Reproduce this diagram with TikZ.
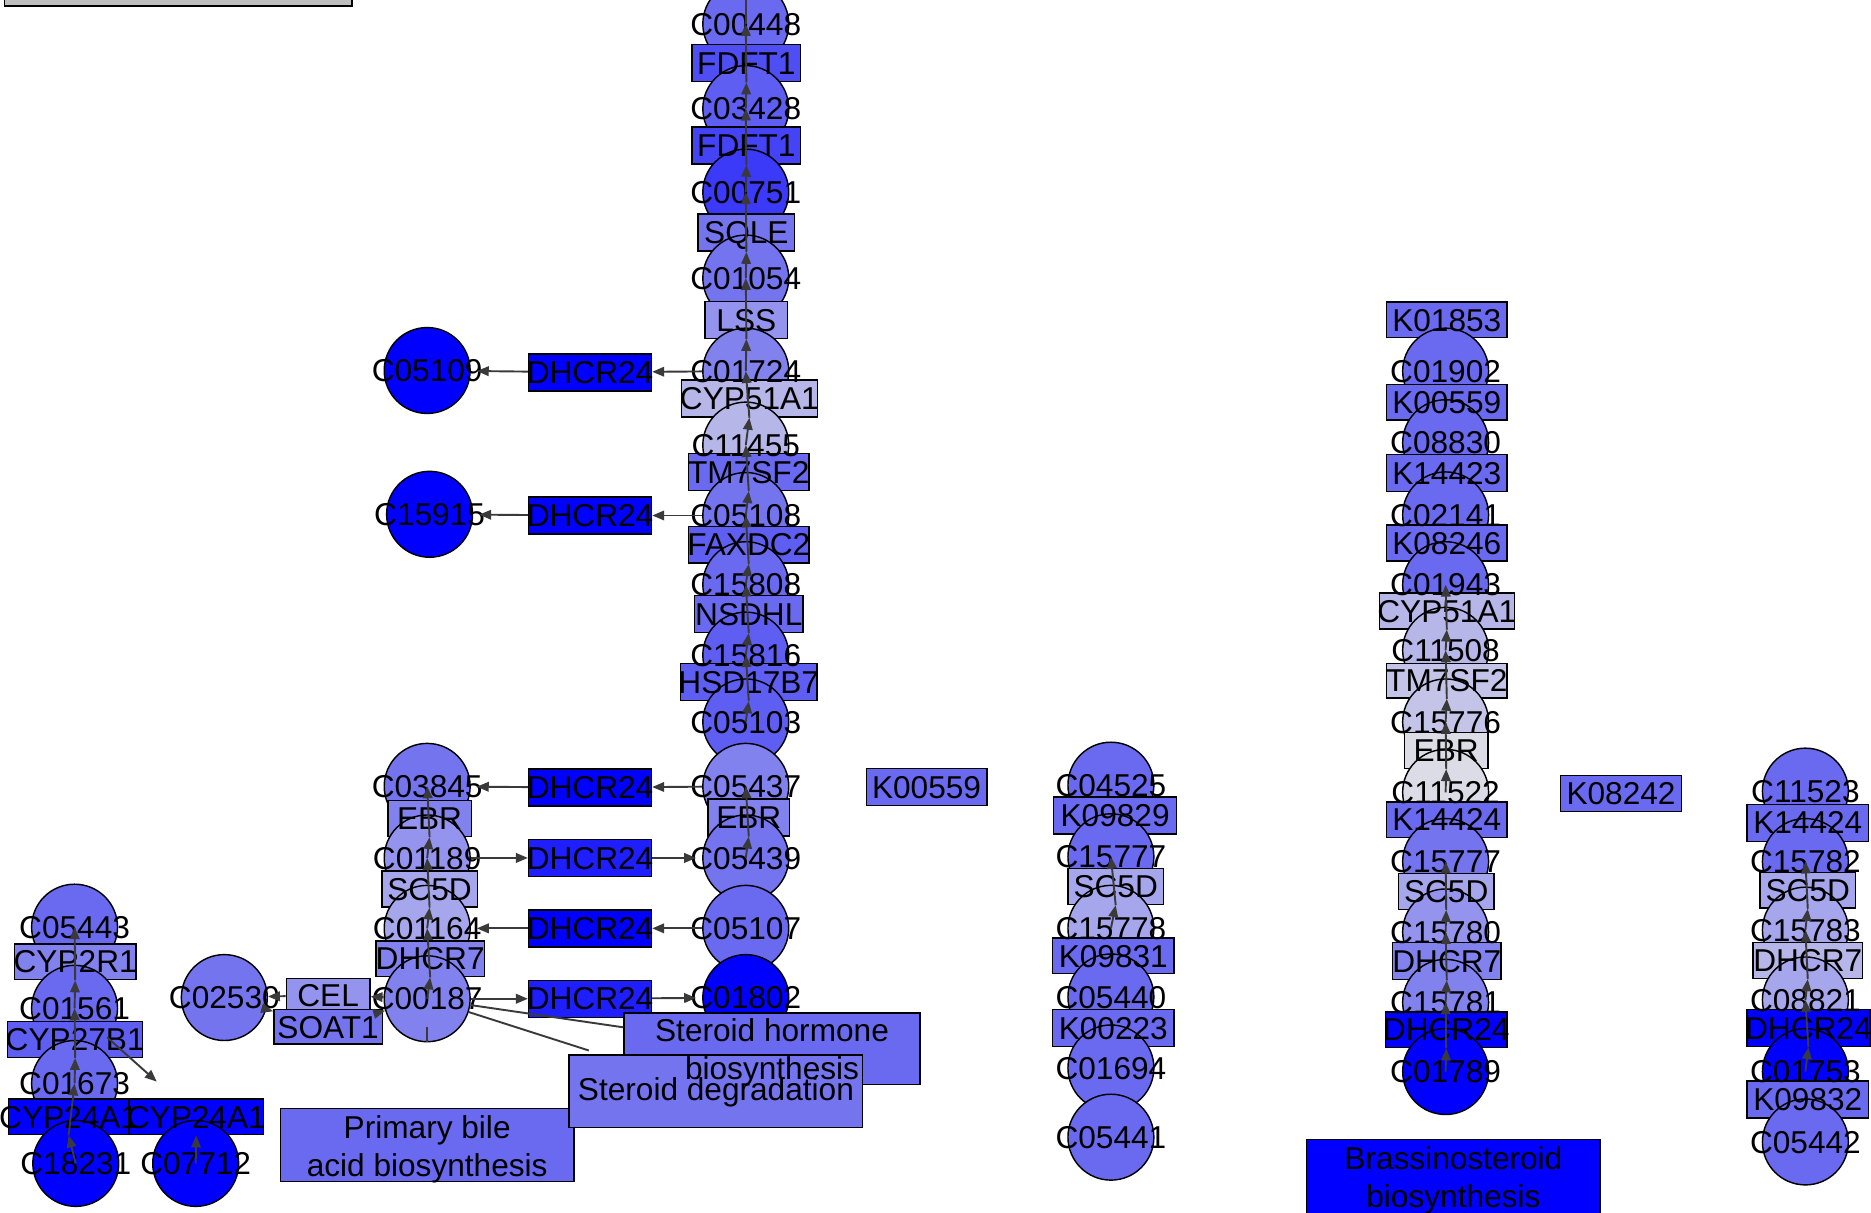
\documentclass[tikz,border=0pt]{standalone}
\usepackage{fontspec}
\setmainfont{Liberation Sans}
\usetikzlibrary{arrows.meta}
\definecolor{cB0}{HTML}{0000FF}
\definecolor{cB1}{HTML}{1E1EFF}
\definecolor{cB2}{HTML}{3A3AF8}
\definecolor{cB3}{HTML}{4E4EF4}
\definecolor{cB4}{HTML}{4444F6}
\definecolor{cM}{HTML}{6A6AF0}
\definecolor{cM2}{HTML}{5E5EF2}
\definecolor{cM3}{HTML}{7474EE}
\definecolor{cM4}{HTML}{8282EE}
\definecolor{cL1}{HTML}{9494EE}
\definecolor{cL2}{HTML}{A6A6EC}
\definecolor{cL3}{HTML}{B6B6E8}
\definecolor{cL4}{HTML}{C4C4E8}
\definecolor{cL5}{HTML}{DCDCE6}
\definecolor{cGray}{HTML}{BEBEBE}
\definecolor{cEdge}{HTML}{3A3A3A}
\newcommand\labfont{\fontsize{26.5}{32}\selectfont}
\begin{document}
\begin{tikzpicture}[x=1pt,y=-1pt,
  cpd/.style={circle, draw=black, line width=1.2pt, minimum size=72pt, inner sep=0pt},
  enz/.style={rectangle, draw=black, line width=1.2pt, inner sep=0pt, minimum height=30pt},
  lbl/.style={inner sep=0pt, font=\labfont, text=black, text height=18.8pt, text depth=0pt},
  lblm/.style={inner sep=0pt, font=\labfont, text=black, align=center},
  arr/.style={draw=cEdge, line width=1.6pt, -{Triangle[length=10pt,width=8pt]}},
  ln/.style={draw=cEdge, line width=1.6pt}]
\useasboundingbox (0,0) rectangle (1568,1016);
\clip (0,0) rectangle (1568,1016);
\fill[white] (0,0) rectangle (1568,1016);
\node[enz, fill=cGray, minimum width=291pt, minimum height=20pt] (legend) at (149.5,-5) {};
% ---------- main column ----------
\node[cpd, fill=cM] (c00448) at (625,20) {};
\node[enz, fill=cB3, minimum width=91pt, minimum height=31pt] (fdft1a) at (625.5,53) {};
\node[cpd, fill=cM2] (c03428) at (625,91) {};
\node[enz, fill=cB4, minimum width=91pt, minimum height=31pt] (fdft1b) at (625.5,122) {};
\node[cpd, fill=cB2] (c00751) at (625,161) {};
\node[enz, fill=cM3, minimum width=81pt, minimum height=31pt] (sqle) at (625.5,195) {};
\node[cpd, fill=cM3] (c01054) at (625,233) {};
\node[enz, fill=cL1, minimum width=69pt, minimum height=31pt] (lss) at (625.5,268) {};
\node[cpd, fill=cM4] (c01724) at (625,311) {};
\node[enz, fill=cL3, minimum width=114pt, minimum height=31pt] (cyp51a1) at (628,334) {};
\node[cpd, fill=cL3] (c11455) at (625,373) {};
\node[enz, fill=cM, minimum width=101pt, minimum height=31pt] (tm7sf2) at (627.5,395.5) {};
\node[cpd, fill=cM3] (c05108) at (625,432) {};
\node[enz, fill=cM2, minimum width=101pt, minimum height=31pt] (faxdc2) at (627.5,456.5) {};
\node[cpd, fill=cM] (c15808) at (625,490) {};
\node[enz, fill=cM, minimum width=91pt, minimum height=31pt] (nsdhl) at (627.5,514.5) {};
\node[cpd, fill=cM2] (c15816) at (625,549) {};
\node[enz, fill=cM2, minimum width=114pt, minimum height=31pt] (hsd17b7) at (627.5,571.5) {};
\node[cpd, fill=cM2] (c05103) at (625,605) {};
\node[cpd, fill=cM4] (c05437) at (625,659) {};
\node[enz, fill=cM4, minimum width=68pt, minimum height=31pt] (ebr1) at (627.5,685) {};
\node[cpd, fill=cM3] (c05439) at (625,719) {};
\node[cpd, fill=cM] (c05107) at (625,778) {};
\node[cpd, fill=cB0] (c01802) at (625,836) {};
\node[enz, fill=cM, minimum width=101pt, minimum height=31pt] (k00559a) at (776.5,659.5) {};
% ---------- DHCR24 boxes ----------
\node[enz, fill=cB0, minimum width=103pt, minimum height=31pt] (dh1) at (494.5,312) {};
\node[enz, fill=cB0, minimum width=103pt, minimum height=31pt] (dh2) at (494.5,432) {};
\node[enz, fill=cB0, minimum width=103pt, minimum height=31pt] (dh3) at (494.5,660) {};
\node[enz, fill=cB1, minimum width=103pt, minimum height=31pt] (dh4) at (494.5,719) {};
\node[enz, fill=cB0, minimum width=103pt, minimum height=31pt] (dh5) at (494.5,778) {};
\node[enz, fill=cB1, minimum width=103pt, minimum height=31pt] (dh6) at (494.5,837) {};
\node[cpd, fill=cB0] (c05109) at (358,310.5) {};
\node[cpd, fill=cB0] (c15915) at (360,431) {};
% ---------- second column ----------
\node[cpd, fill=cM3] (c03845) at (358,659) {};
\node[enz, fill=cM4, minimum width=70pt] (ebr2) at (360,686) {};
\node[cpd, fill=cL1] (c01189) at (358,719) {};
\node[enz, fill=cL2, minimum width=80pt] (sc5d1) at (360,745) {};
\node[cpd, fill=cL2] (c01164) at (358,778) {};
\node[enz, fill=cM4, minimum width=91pt] (dhcr7a) at (360.5,803.5) {};
\node[cpd, fill=cM4] (c00187) at (358,837) {};
\node[cpd, fill=cM3] (c02530) at (188,836) {};
\node[enz, fill=cL1, minimum width=70pt, minimum height=28pt] (cel) at (275,834) {};
\node[enz, fill=cM3, minimum width=91pt, minimum height=29pt] (soat1) at (275,860.5) {};
% ---------- leftmost column ----------
\node[cpd, fill=cM] (c05443) at (62.5,777) {};
\node[enz, fill=cM4, minimum width=102pt] (cyp2r1) at (63,806) {};
\node[cpd, fill=cM] (c01561) at (62.5,845) {};
\node[enz, fill=cM2, minimum width=113pt] (cyp27b1) at (63,871) {};
\node[cpd, fill=cM] (c01673) at (62.5,908) {};
\node[enz, fill=cB0, minimum width=101pt] (cyp24a1a) at (57.5,936) {};
\node[enz, fill=cB0, minimum width=113pt] (cyp24a1b) at (164.5,936) {};
\node[cpd, fill=cB0] (c18231) at (63.5,975) {};
\node[cpd, fill=cB0] (c07712) at (164,975) {};
% ---------- C04525 column ----------
\node[cpd, fill=cM] (c04525) at (931,658) {};
\node[enz, fill=cM, minimum width=103pt, minimum height=31pt] (k09829) at (934.5,683.5) {};
\node[cpd, fill=cM] (c15777a) at (931,718) {};
\node[enz, fill=cL2, minimum width=80pt] (sc5d2) at (935,743) {};
\node[cpd, fill=cL2] (c15778) at (931,778) {};
\node[enz, fill=cM, minimum width=102pt] (k09831) at (933,801) {};
\node[cpd, fill=cM] (c05440) at (931,835.5) {};
\node[enz, fill=cM, minimum width=102pt, minimum height=31pt] (k00223) at (933,861.5) {};
\node[cpd, fill=cM] (c01694) at (931,895) {};
\node[cpd, fill=cM] (c05441) at (931,953) {};
% ---------- Brassinosteroid column ----------
\node[enz, fill=cM, minimum width=101pt] (k01853) at (1212.5,268) {};
\node[cpd, fill=cM] (c01902) at (1211.5,311) {};
\node[enz, fill=cM, minimum width=101pt] (k00559b) at (1212.5,337) {};
\node[cpd, fill=cM] (c08830) at (1211.5,371) {};
\node[enz, fill=cM, minimum width=101pt, minimum height=31pt] (k14423) at (1212.5,396.5) {};
\node[cpd, fill=cM] (c02141) at (1211.5,431.5) {};
\node[enz, fill=cM, minimum width=101pt] (k08246) at (1212.5,455) {};
\node[cpd, fill=cM] (c01943) at (1211.5,490) {};
\node[enz, fill=cL3, minimum width=113pt] (cyp51a1b) at (1212.5,512) {};
\node[cpd, fill=cL3] (c11508) at (1211.5,545) {};
\node[enz, fill=cL4, minimum width=101pt, minimum height=29pt] (tm7sf2b) at (1212.5,570.5) {};
\node[cpd, fill=cL4] (c15776) at (1211.5,605) {};
\node[enz, fill=cL5, minimum width=70pt] (ebr3) at (1212,629) {};
\node[cpd, fill=cL5] (c11522) at (1211.5,664) {};
\node[enz, fill=cM, minimum width=101pt] (k14424a) at (1212.5,687) {};
\node[cpd, fill=cM3] (c15777b) at (1211.5,722) {};
\node[enz, fill=cL2, minimum width=80pt] (sc5d3) at (1212,747) {};
\node[cpd, fill=cL1] (c15780) at (1211.5,781) {};
\node[enz, fill=cM4, minimum width=91pt, minimum height=31pt] (dhcr7b) at (1212.5,805.5) {};
\node[cpd, fill=cM4] (c15781) at (1211.5,840) {};
\node[enz, fill=cB0, minimum width=102pt] (dhcr24b) at (1212,863) {};
\node[cpd, fill=cB0] (c01789) at (1211.5,898) {};
\node[enz, fill=cM, minimum width=101pt] (k08242) at (1358.5,665) {};
% ---------- C11523 column ----------
\node[cpd, fill=cM] (c11523) at (1513,663) {};
\node[enz, fill=cM, minimum width=102pt, minimum height=31pt] (k14424b) at (1515,689.5) {};
\node[cpd, fill=cM] (c15782) at (1513,722) {};
\node[enz, fill=cL2, minimum width=80pt] (sc5d4) at (1515,746) {};
\node[cpd, fill=cL2] (c15783) at (1513,779.5) {};
\node[enz, fill=cL3, minimum width=92pt] (dhcr7c) at (1515,805) {};
\node[cpd, fill=cL2] (c08821) at (1513,838) {};
\node[enz, fill=cB0, minimum width=103pt, minimum height=31pt] (dhcr24c) at (1515.5,861.5) {};
\node[cpd, fill=cB0] (c01753) at (1513,898) {};
\node[enz, fill=cM, minimum width=102pt, minimum height=31pt] (k09832) at (1515,921.5) {};
\node[cpd, fill=cM] (c05442) at (1513,957) {};
% ---------- pathway boxes ----------
\node[enz, fill=cM, minimum width=246pt, minimum height=61pt] (pba) at (358,959.5) {};
\node[enz, fill=cM, minimum width=248pt, minimum height=60pt] (shb) at (647,879) {};
\node[enz, fill=cM3, minimum width=246pt, minimum height=61pt] (sdg) at (600,914.5) {};
\node[enz, fill=cB0, minimum width=246pt, minimum height=62pt] (brs) at (1218,986) {};
% ---------- labels ----------
\foreach \n/\t in {c00448/C00448, fdft1a/FDFT1, c03428/C03428, fdft1b/FDFT1, c00751/C00751,
  sqle/SQLE, c01054/C01054, lss/LSS, c01724/C01724, cyp51a1/CYP51A1, c11455/C11455,
  tm7sf2/TM7SF2, c05108/C05108, faxdc2/FAXDC2, c15808/C15808, nsdhl/NSDHL, c15816/C15816,
  hsd17b7/HSD17B7, c05103/C05103, c05437/C05437, ebr1/EBR, c05439/C05439, c05107/C05107,
  c01802/C01802, k00559a/K00559,
  dh1/DHCR24, dh2/DHCR24, dh3/DHCR24, dh4/DHCR24, dh5/DHCR24, dh6/DHCR24,
  c05109/C05109, c15915/C15915,
  c03845/C03845, ebr2/EBR, c01189/C01189, sc5d1/SC5D, c01164/C01164, dhcr7a/DHCR7, c00187/C00187,
  c02530/C02530, cel/CEL, soat1/SOAT1,
  c05443/C05443, cyp2r1/CYP2R1, c01561/C01561, cyp27b1/CYP27B1, c01673/C01673,
  cyp24a1a/CYP24A1, cyp24a1b/CYP24A1, c18231/C18231, c07712/C07712,
  c04525/C04525, k09829/K09829, c15777a/C15777, sc5d2/SC5D, c15778/C15778, k09831/K09831,
  c05440/C05440, k00223/K00223, c01694/C01694, c05441/C05441,
  k01853/K01853, c01902/C01902, k00559b/K00559, c08830/C08830, k14423/K14423, c02141/C02141,
  k08246/K08246, c01943/C01943, cyp51a1b/CYP51A1, c11508/C11508, tm7sf2b/TM7SF2, c15776/C15776,
  ebr3/EBR, c11522/C11522, k14424a/K14424, c15777b/C15777, sc5d3/SC5D, c15780/C15780,
  dhcr7b/DHCR7, c15781/C15781, dhcr24b/DHCR24, c01789/C01789, k08242/K08242,
  c11523/C11523, k14424b/K14424, c15782/C15782, sc5d4/SC5D, c15783/C15783, dhcr7c/DHCR7,
  c08821/C08821, dhcr24c/DHCR24, c01753/C01753, k09832/K09832, c05442/C05442}
  \node[lbl] (t\n) at (\n) {\t};
\node[lblm] (tpba) at (358,963.5) {Primary bile\\acid biosynthesis};
\node[lblm] (tshb) at (647,882) {Steroid hormone\\biosynthesis};
\node[lbl] (tsdg) at (600,912.5) {Steroid degradation};
\node[lblm] (tbrs) at (1218,989) {Brassinosteroid\\biosynthesis};
% ---------- edges ----------
\foreach \a/\e/\b in {c05439/ebr1/c05437, c05103/hsd17b7/c15816, c15816/nsdhl/c15808,
  c15808/faxdc2/c05108, c05108/tm7sf2/c11455, c11455/cyp51a1/c01724, c01724/lss/c01054,
  c01054/sqle/c00751, c00751/fdft1b/c03428, c03428/fdft1a/c00448,
  c00187/dhcr7a/c01164, c01164/sc5d1/c01189, c01189/ebr2/c03845,
  c18231/cyp24a1a/c01673, c01673/cyp27b1/c01561, c01561/cyp2r1/c05443,
  c15778/sc5d2/c15777a,
  c01789/dhcr24b/c15781, c15781/dhcr7b/c15780, c15780/sc5d3/c15777b,
  c11522/ebr3/c15776, c15776/tm7sf2b/c11508, c11508/cyp51a1b/c01943,
  c01753/dhcr24c/c08821, c08821/dhcr7c/c15783, c15783/sc5d4/c15782}
  {\draw[arr] (\a.center) -- (\e.south);
   \draw[arr] (\e.south) -- (\b.center);}
\draw[arr] (c07712.center) -- (cyp24a1b.south);
\draw[arr, shorten >=21pt] (c01561) -- (cyp24a1b);
\coordinate (topend) at (625,-2);
\draw[ln] (c00448.center) -- (topend);
\coordinate (tickend) at (358,861);
\draw[ln] (c00187.south) -- (tickend);
% horizontal
\draw[arr] (c01724) -- (dh1);
\draw[arr, shorten >=5pt] (dh1) -- (c05109);
\draw[arr] (c05108) -- (dh2);
\draw[arr, shorten >=5pt] (dh2) -- (c15915);
\draw[arr] (c05437) -- (dh3);
\draw[arr, shorten >=5pt] (dh3) -- (c03845);
\draw[arr] (c01189) -- (dh4);
\draw[arr, shorten >=5pt] (dh4) -- (c05439);
\draw[arr] (c05107) -- (dh5);
\draw[arr, shorten >=5pt] (dh5) -- (c01164);
\draw[arr] (c00187) -- (dh6);
\draw[arr, shorten >=5pt] (dh6) -- (c01802);
\draw[arr] (c00187) -- (cel);
\draw[arr] (cel) -- (c02530);
\draw[arr] (c02530) -- (soat1);
\draw[arr] (soat1) -- (c00187);
\draw[ln] (c00187) -- (shb);
\draw[ln, shorten >=10pt] (c00187) -- (sdg);
\end{tikzpicture}
\end{document}
